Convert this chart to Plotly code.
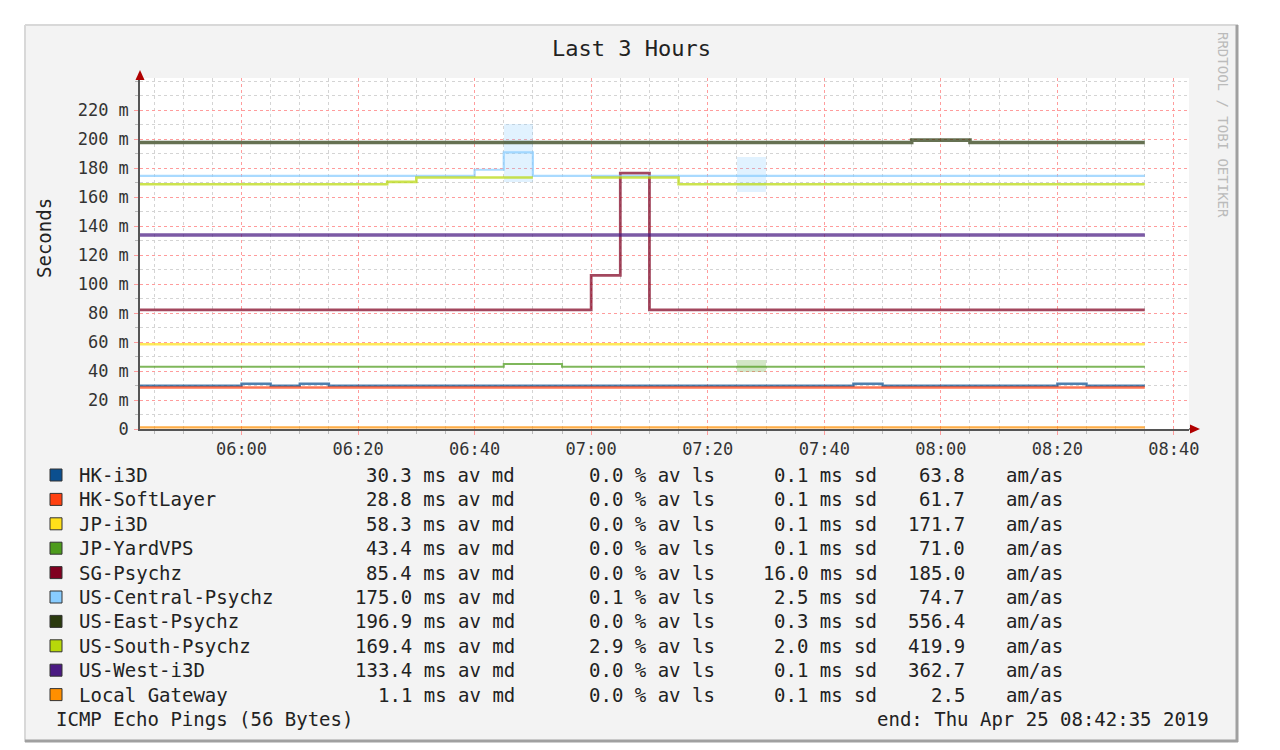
import plotly.graph_objects as go

# ---- data (5 minute RRD steps, each value holds from its start time) ----
step_start = [
    "05:40", "05:45", "05:50", "05:55", "06:00", "06:05", "06:10", "06:15", "06:20", "06:25",
    "06:30", "06:35", "06:40", "06:45", "06:50", "06:55", "07:00", "07:05", "07:10", "07:15",
    "07:20", "07:25", "07:30", "07:35", "07:40", "07:45", "07:50", "07:55", "08:00", "08:05",
    "08:10", "08:15", "08:20", "08:25", "08:30",
]
last_step_end = "08:35"

hk_i3d = [29.8, 29.8, 29.8, 29.8, 31.2, 29.8, 31.2, 29.8, 29.8, 29.8,
          29.8, 29.8, 29.8, 29.8, 29.8, 29.8, 29.8, 29.8, 29.8, 29.8,
          29.8, 29.8, 29.8, 29.8, 29.8, 31.2, 29.8, 29.8, 29.8, 29.8,
          29.8, 29.8, 31.2, 29.8, 29.8]
hk_softlayer = [28.6, 28.6, 28.6, 28.6, 28.6, 28.6, 28.6, 28.6, 28.6, 28.6,
                28.6, 28.6, 28.6, 28.6, 28.6, 28.6, 28.6, 28.6, 28.6, 28.6,
                28.6, 28.6, 28.6, 28.6, 28.6, 28.6, 28.6, 28.6, 28.6, 28.6,
                28.6, 28.6, 28.6, 28.6, 28.6]
jp_i3d = [58.5, 58.5, 58.5, 58.5, 58.5, 58.5, 58.5, 58.5, 58.5, 58.5,
          58.5, 58.5, 58.5, 58.5, 58.5, 58.5, 58.5, 58.5, 58.5, 58.5,
          58.5, 58.5, 58.5, 58.5, 58.5, 58.5, 58.5, 58.5, 58.5, 58.5,
          58.5, 58.5, 58.5, 58.5, 58.5]
jp_yardvps = [43.0, 43.0, 43.0, 43.0, 43.0, 43.0, 43.0, 43.0, 43.0, 43.0,
              43.0, 43.0, 43.0, 44.8, 44.8, 43.0, 43.0, 43.0, 43.0, 43.0,
              43.0, 43.0, 43.0, 43.0, 43.0, 43.0, 43.0, 43.0, 43.0, 43.0,
              43.0, 43.0, 43.0, 43.0, 43.0]
sg_psychz = [82.2, 82.2, 82.2, 82.2, 82.2, 82.2, 82.2, 82.2, 82.2, 82.2,
             82.2, 82.2, 82.2, 82.2, 82.2, 82.2, 106.0, 176.5, 82.2, 82.2,
             82.2, 82.2, 82.2, 82.2, 82.2, 82.2, 82.2, 82.2, 82.2, 82.2,
             82.2, 82.2, 82.2, 82.2, 82.2]
us_central = [174.6, 174.6, 174.6, 174.6, 174.6, 174.6, 174.6, 174.6, 174.6, 174.6,
              174.6, 174.6, 178.8, 190.8, 174.6, 174.6, 174.6, 174.6, 174.6, 174.6,
              174.6, 174.6, 174.6, 174.6, 174.6, 174.6, 174.6, 174.6, 174.6, 174.6,
              174.6, 174.6, 174.6, 174.6, 174.6]
us_east = [197.6, 197.6, 197.6, 197.6, 197.6, 197.6, 197.6, 197.6, 197.6, 197.6,
           197.6, 197.6, 197.6, 197.6, 197.6, 197.6, 197.6, 197.6, 197.6, 197.6,
           197.6, 197.6, 197.6, 197.6, 197.6, 197.6, 197.6, 199.2, 199.2, 197.6,
           197.6, 197.6, 197.6, 197.6, 197.6]
us_south = [168.8, 168.8, 168.8, 168.8, 168.8, 168.8, 168.8, 168.8, 168.8, 170.4,
            173.4, 173.4, 173.4, 173.4, 173.4, None, 173.4, 173.4, 173.4, 168.8,
            168.8, 168.8, 168.8, 168.8, 168.8, 168.8, 168.8, 168.8, 168.8, 168.8,
            168.8, 168.8, 168.8, 168.8, 168.8]
us_west = [133.8, 133.8, 133.8, 133.8, 133.8, 133.8, 133.8, 133.8, 133.8, 133.8,
           133.8, 133.8, 133.8, 133.8, 133.8, 133.8, 133.8, 133.8, 133.8, 133.8,
           133.8, 133.8, 133.8, 133.8, 133.8, 133.8, 133.8, 133.8, 133.8, 133.8,
           133.8, 133.8, 133.8, 133.8, 133.8]
local_gw = [1.1, 1.1, 1.1, 1.1, 1.1, 1.1, 1.1, 1.1, 1.1, 1.1,
            1.1, 1.1, 1.1, 1.1, 1.1, 1.1, 1.1, 1.1, 1.1, 1.1,
            1.1, 1.1, 1.1, 1.1, 1.1, 1.1, 1.1, 1.1, 1.1, 1.1,
            1.1, 1.1, 1.1, 1.1, 1.1]

# smoke (std deviation) blocks
central_smoke_start = ["06:45", "07:25"]
central_smoke_lo = [170.5, 163.5]
central_smoke_hi = [210.5, 187.5]
yard_smoke_start = ["07:25"]
yard_smoke_lo = [39.0]
yard_smoke_hi = [47.5]

names = ["HK-i3D", "HK-SoftLayer", "JP-i3D", "JP-YardVPS", "SG-Psychz",
         "US-Central-Psychz", "US-East-Psychz", "US-South-Psychz", "US-West-i3D", "Local Gateway"]
colors = ["#0b4f8f", "#ff4010", "#ffe01a", "#4d9b1c", "#800020",
          "#88ccff", "#2b3a0f", "#b8d80a", "#4a1a82", "#ff8f00"]
series = [hk_i3d, hk_softlayer, jp_i3d, jp_yardvps, sg_psychz,
          us_central, us_east, us_south, us_west, local_gw]
av_md = [30.3, 28.8, 58.3, 43.4, 85.4, 175.0, 196.9, 169.4, 133.4, 1.1]
av_ls = [0.0, 0.0, 0.0, 0.0, 0.0, 0.1, 0.0, 2.9, 0.0, 0.0]
sd = [0.1, 0.1, 0.1, 0.1, 16.0, 2.5, 0.3, 2.0, 0.1, 0.1]
am_as = [63.8, 61.7, 171.7, 71.0, 185.0, 74.7, 556.4, 419.9, 362.7, 2.5]

ytick_vals = [0, 20, 40, 60, 80, 100, 120, 140, 160, 180, 200, 220]
ytick_text = ["0", "20 m", "40 m", "60 m", "80 m", "100 m", "120 m",
              "140 m", "160 m", "180 m", "200 m", "220 m"]

# line thickness per series (the median lines look blurred / thick in the original)
widths = [2.4, 2.4, 2.6, 2.0, 2.8, 2.2, 3.6, 2.6, 3.6, 2.4]

DAY = "2019-04-25 "
MONO = "DejaVu Sans Mono"

# ---- page pixel helpers (page body has an 8px margin) ----
OFF = 8
PAGE_W, PAGE_H = 1280, 750
PL, PT, PR, PB = 140, 78, 1189, 429   # plot box in page pixels
W, H = PAGE_W - OFF, PAGE_H - OFF
PW, PH = PR - PL, PB - PT


def fx(x):
    return (x - PL) / PW


def fy(y):
    return (PB - y) / PH


def rgba(hexc, a):
    h = hexc.lstrip("#")
    return "rgba(%d,%d,%d,%s)" % (int(h[0:2], 16), int(h[2:4], 16), int(h[4:6], 16), a)


fig = go.Figure()

# smoke blocks
for starts, lo, hi, col in [(central_smoke_start, central_smoke_lo, central_smoke_hi, "#88ccff"),
                            (yard_smoke_start, yard_smoke_lo, yard_smoke_hi, "#4d9b1c")]:
    fig.add_trace(go.Bar(
        x=[DAY + s for s in starts], y=[h - l for l, h in zip(lo, hi)], base=lo,
        width=300000, offset=0, marker=dict(color=rgba(col, 0.25), line=dict(width=0)),
        hoverinfo="skip", showlegend=False))

xs = [DAY + t for t in step_start] + [DAY + last_step_end]
for name, col, vals, lw in zip(names, colors, series, widths):
    ys = vals + [vals[-1]]
    fig.add_trace(go.Scatter(x=xs, y=ys, mode="lines", name=name,
                             line=dict(shape="hv", width=lw, color=rgba(col, 0.72)),
                             showlegend=False, connectgaps=False))

shapes = [
    # frame
    dict(type="rect", xref="paper", yref="paper", x0=fx(25), x1=fx(1238), y0=fy(742), y1=fy(25),
         fillcolor="#f3f3f3", line=dict(width=0), layer="below"),
    dict(type="line", xref="paper", yref="paper", x0=fx(25), x1=fx(1238), y0=fy(25), y1=fy(25),
         line=dict(color="#d8d8d8", width=2), layer="below"),
    dict(type="line", xref="paper", yref="paper", x0=fx(25), x1=fx(25), y0=fy(25), y1=fy(742),
         line=dict(color="#d8d8d8", width=2), layer="below"),
    dict(type="line", xref="paper", yref="paper", x0=fx(1237), x1=fx(1237), y0=fy(25), y1=fy(742),
         line=dict(color="#a0a0a0", width=3), layer="below"),
    dict(type="line", xref="paper", yref="paper", x0=fx(25), x1=fx(1238), y0=fy(741), y1=fy(741),
         line=dict(color="#a0a0a0", width=3), layer="below"),
    # plot canvas
    dict(type="rect", xref="paper", yref="paper", x0=0, x1=1, y0=0, y1=1,
         fillcolor="white", line=dict(width=0), layer="below"),
    # axis arrows
    dict(type="path", xref="paper", yref="paper",
         path="M %f,%f L %f,%f L %f,%f Z" % (fx(135.5), fy(80), fx(144.5), fy(80), fx(140), fy(70)),
         fillcolor="#b00000", line=dict(width=0)),
    dict(type="line", xref="paper", yref="paper", x0=1, x1=fx(1192), y0=0, y1=0,
         line=dict(color="#555555", width=1.5)),
    dict(type="path", xref="paper", yref="paper",
         path="M %f,%f L %f,%f L %f,%f Z" % (fx(1190), fy(424.5), fx(1190), fy(433.5), fx(1200), fy(429)),
         fillcolor="#b00000", line=dict(width=0)),
]

annotations = [
    dict(text="Last 3 Hours", x=fx(631), y=fy(48), xanchor="center",
         font=dict(family=MONO, size=22, color="#222")),
    dict(text="Seconds", x=fx(44), y=fy(238), xanchor="center", textangle=-90,
         font=dict(family=MONO, size=19, color="#222")),
    dict(text="RRDTOOL / TOBI OETIKER", x=fx(1223), y=fy(125), xanchor="center", textangle=90,
         font=dict(family=MONO, size=14, color="#bbbbbb")),
    dict(text="ICMP Echo Pings (56 Bytes)", x=fx(54), y=fy(719), xanchor="left",
         font=dict(family=MONO, size=19, color="#222")),
    dict(text="end: Thu Apr 25 08:42:35 2019", x=fx(1211), y=fy(719), xanchor="right",
         font=dict(family=MONO, size=19, color="#222")),
]

row_y0, row_dy = 475, 24.4
for i, name in enumerate(names):
    ry = row_y0 + i * row_dy
    shapes.append(dict(type="rect", xref="paper", yref="paper", x0=fx(50), x1=fx(62), y0=fy(ry + 6), y1=fy(ry - 6),
                       fillcolor=colors[i], line=dict(color="#333333", width=1)))
    cells = [
        (name, 77, "left"),
        ("%.1f ms av md" % av_md[i], 517, "right"),
        ("%.1f %% av ls" % av_ls[i], 717, "right"),
        ("%.1f ms sd" % sd[i], 879, "right"),
        ("%.1f" % am_as[i], 967, "right"),
        ("am/as", 1004, "left"),
    ]
    for txt, cx, anc in cells:
        annotations.append(dict(text=txt, x=fx(cx), y=fy(ry), xanchor=anc,
                                font=dict(family=MONO, size=19, color="#222")))

for a in annotations:
    a.update(xref="paper", yref="paper", showarrow=False, yanchor="middle")

fig.update_layout(
    width=W, height=H, margin=dict(l=PL - OFF, r=PAGE_W - PR, t=PT - OFF, b=PAGE_H - PB),
    paper_bgcolor="white", plot_bgcolor="white",
    barmode="overlay", bargap=0, showlegend=False,
    shapes=shapes, annotations=annotations,
    font=dict(family=MONO, size=17, color="#333"),
    xaxis=dict(
        type="date", range=[DAY + "05:42:35", DAY + "08:42:35"],
        tick0=DAY + "06:00", dtick=1200000, tickformat="%H:%M",
        showgrid=True, gridcolor="#ff9c9c", griddash="dot", gridwidth=1,
        ticks="outside", ticklen=4, tickcolor="#ff9c9c",
        showline=True, linecolor="#555555", linewidth=1.5, zeroline=False,
        tickfont=dict(family=MONO, size=17, color="#333"),
        minor=dict(dtick=300000, showgrid=True, gridcolor="#d4d4d4", griddash="dot",
                   ticks="outside", ticklen=3, tickcolor="#bbbbbb"),
    ),
    yaxis=dict(
        range=[0, PH / 1.45], tickvals=ytick_vals, ticktext=ytick_text,
        showgrid=True, gridcolor="#ff9c9c", griddash="dot", gridwidth=1,
        ticks="outside", ticklen=4, tickcolor="#ff9c9c", ticklabelstandoff=2,
        showline=True, linecolor="#555555", linewidth=1.5, zeroline=False,
        tickfont=dict(family=MONO, size=17, color="#333"),
        minor=dict(dtick=10, showgrid=True, gridcolor="#d4d4d4", griddash="dot",
                   ticks="outside", ticklen=3, tickcolor="#bbbbbb"),
    ),
)

fig.write_html("out.html")
